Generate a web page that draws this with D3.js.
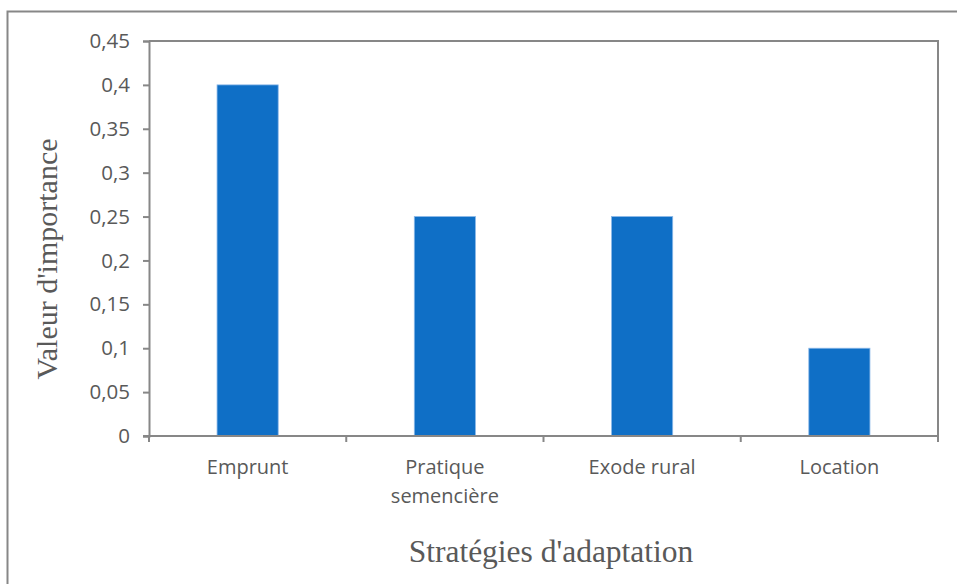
<html>
<head>
<script src="https://d3js.org/d3.v7.min.js"></script>
<style>
body { margin: 0; padding: 0; background: #fff; }
</style>
</head>
<body>
<script>
var categories = [["Emprunt"], ["Pratique", "semencière"], ["Exode rural"], ["Location"]];
var values = [0.4, 0.25, 0.25, 0.1];
var yTicks = [0, 0.05, 0.1, 0.15, 0.2, 0.25, 0.3, 0.35, 0.4, 0.45];

var width = 957, height = 584;
var margin = {top: 41, right: 19, bottom: 148, left: 149};
var grey = "#878787", textGrey = "#595959";

var svg = d3.select("body").append("svg")
    .attr("width", width)
    .attr("height", height);

// outer chart frame, runs off the right and bottom edges
svg.append("rect")
    .attr("x", 7.5).attr("y", 11.5)
    .attr("width", width).attr("height", height)
    .attr("fill", "none").attr("stroke", grey).attr("stroke-width", 2);

var x = d3.scaleBand()
    .domain(d3.range(categories.length))
    .range([margin.left, width - margin.right])
    .paddingInner(0.69).paddingOuter(0.345);

var y = d3.scaleLinear()
    .domain([0, 0.45])
    .range([height - margin.bottom, margin.top]);

var fmt = function(d) { return d3.format("")(+d.toFixed(2)).replace(".", ","); };

// plot frame top / right
svg.append("path")
    .attr("d", "M" + margin.left + "," + y(0.45) + "H" + (width - margin.right) + "V" + y(0))
    .attr("fill", "none").attr("stroke", grey).attr("stroke-width", 2);

svg.selectAll(".bar")
    .data(values)
  .enter().append("rect")
    .attr("class", "bar")
    .attr("x", function(d, i) { return x(i); })
    .attr("y", function(d) { return y(d); })
    .attr("width", x.bandwidth())
    .attr("height", function(d) { return y(0) - y(d); })
    .attr("fill", "#0F6FC6")
    .attr("stroke", "#8BB8E8").attr("stroke-width", 0.8);

var yAxis = svg.append("g")
    .attr("transform", "translate(" + margin.left + ",0)")
    .call(d3.axisLeft(y).tickValues(yTicks).tickSize(6).tickPadding(13).tickFormat(fmt));

var step = x.step();
var xTickPos = d3.range(categories.length + 1).map(function(i) { return margin.left + i * step; });

var xAxisG = svg.append("g");
xAxisG.append("line")
    .attr("x1", margin.left - 6).attr("x2", width - margin.right)
    .attr("y1", y(0)).attr("y2", y(0));
xAxisG.selectAll(".xt")
    .data(xTickPos)
  .enter().append("line")
    .attr("x1", function(d) { return d; }).attr("x2", function(d) { return d; })
    .attr("y1", y(0)).attr("y2", y(0) + 6);
xAxisG.selectAll("line").attr("stroke", grey).attr("stroke-width", 2);

yAxis.select(".domain").attr("stroke", grey).attr("stroke-width", 2);
yAxis.selectAll(".tick line").attr("stroke", grey).attr("stroke-width", 2);
yAxis.selectAll(".tick text")
    .attr("fill", textGrey)
    .style("font-family", "'Open Sans', sans-serif")
    .style("font-size", "20.5px");

var labels = svg.selectAll(".xlabel")
    .data(categories)
  .enter().append("text")
    .attr("class", "xlabel")
    .attr("x", function(d, i) { return x(i) + x.bandwidth() / 2; })
    .attr("y", y(0) + 38)
    .attr("text-anchor", "middle")
    .attr("fill", textGrey)
    .style("font-family", "'Open Sans', sans-serif")
    .style("font-size", "20px");
labels.selectAll("tspan")
    .data(function(d) { return d; })
  .enter().append("tspan")
    .attr("x", function() { return d3.select(this.parentNode).attr("x"); })
    .attr("dy", function(d, i) { return i === 0 ? 0 : 29; })
    .text(function(d) { return d; });

svg.append("text")
    .attr("transform", "translate(57," + 259 + ") rotate(-90)")
    .attr("text-anchor", "middle")
    .attr("fill", textGrey)
    .style("font-family", "'Liberation Serif', serif")
    .style("font-size", "30px")
    .text("Valeur d'importance");

svg.append("text")
    .attr("x", 551).attr("y", 562)
    .attr("text-anchor", "middle")
    .attr("fill", textGrey)
    .style("font-family", "'Liberation Serif', serif")
    .style("font-size", "31.5px")
    .text("Stratégies d'adaptation");
</script>
</body>
</html>
